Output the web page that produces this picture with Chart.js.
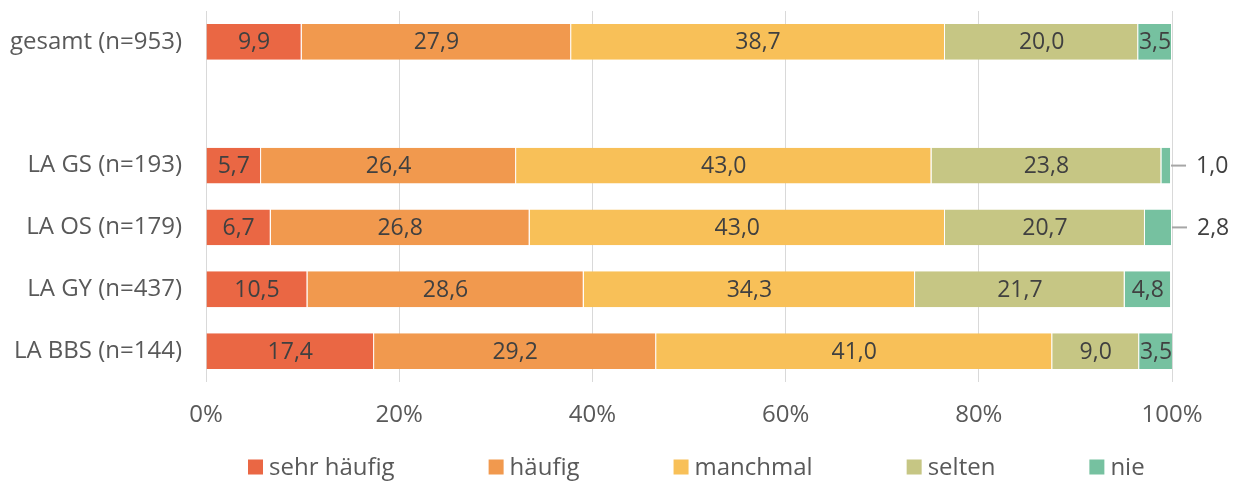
<!DOCTYPE html>
<html>
<head>
<meta charset="utf-8">
<script src="https://cdn.jsdelivr.net/npm/chart.js@4"></script>
<style>
  html, body { margin: 0; padding: 0; background: #fff; }
  #wrap { width: 1236px; height: 483px; }
</style>
</head>
<body>
<div id="wrap"><canvas id="chart" width="1236" height="483"></canvas></div>
<script>
// Kategorien (leere Zeile als Abstand nach "gesamt")
var kategorien = ['gesamt (n=953)', '', 'LA GS (n=193)', 'LA OS (n=179)', 'LA GY (n=437)', 'LA BBS (n=144)'];

var sehrHaeufig = [9.9, null, 5.7, 6.7, 10.5, 17.4];
var haeufig     = [27.9, null, 26.4, 26.8, 28.6, 29.2];
var manchmal    = [38.7, null, 43.0, 43.0, 34.3, 41.0];
var selten      = [20.0, null, 23.8, 20.7, 21.7, 9.0];
var nie         = [3.5, null, 1.0, 2.8, 4.8, 3.5];

var serienNamen = ['sehr häufig', 'häufig', 'manchmal', 'selten', 'nie'];
var farben = ['#EA6744', '#F1994E', '#F8C058', '#C6C684', '#76C1A0'];

var achsenTicks = [0, 20, 40, 60, 80, 100];

Chart.defaults.font.family = "'Open Sans', sans-serif";
Chart.defaults.font.size = 24;

function formatZahl(v) {
    return v.toFixed(1).replace('.', ',');
}

// Werte in die Balken schreiben, kleine Werte rechts daneben mit Linie
var wertePlugin = {
    id: 'werte',
    afterDatasetsDraw: function (chart) {
        var ctx = chart.ctx;
        ctx.save();
        ctx.font = "23px 'Open Sans', sans-serif";
        ctx.textBaseline = 'middle';
        chart.data.datasets.forEach(function (ds, i) {
            var meta = chart.getDatasetMeta(i);
            meta.data.forEach(function (bar, j) {
                var v = ds.data[j];
                if (v === null || v === undefined) return;
                ctx.fillStyle = '#404040';
                if (v < 3) {
                    ctx.strokeStyle = '#a6a6a6';
                    ctx.lineWidth = 2;
                    ctx.beginPath();
                    ctx.moveTo(bar.x, bar.y);
                    ctx.lineTo(bar.x + 15, bar.y);
                    ctx.stroke();
                    ctx.textAlign = 'left';
                    ctx.fillText(formatZahl(v), bar.x + 25, bar.y + 1);
                } else {
                    ctx.textAlign = 'center';
                    ctx.fillText(formatZahl(v), (bar.x + bar.base) / 2, bar.y + 1);
                }
            });
        });
        ctx.restore();
    }
};

// Legende unten, weit auseinander
var legendePlugin = {
    id: 'legende',
    afterDraw: function (chart) {
        var ctx = chart.ctx;
        var area = chart.chartArea;
        ctx.save();
        ctx.font = "24px 'Open Sans', sans-serif";
        ctx.textBaseline = 'middle';
        ctx.textAlign = 'left';
        var box = 15, gap = 6, abstand = 94;
        var x = area.left + 42;
        var y = 467;
        serienNamen.forEach(function (n, i) {
            ctx.fillStyle = farben[i];
            ctx.fillRect(x, y - box / 2, box, box);
            ctx.fillStyle = '#595959';
            ctx.fillText(n, x + box + gap, y + 1);
            x += box + gap + ctx.measureText(n).width + abstand;
        });
        ctx.restore();
    }
};

var datenReihen = [sehrHaeufig, haeufig, manchmal, selten, nie];

new Chart(document.getElementById('chart').getContext('2d'), {
    type: 'bar',
    data: {
        labels: kategorien,
        datasets: datenReihen.map(function (d, i) {
            return {
                label: serienNamen[i],
                data: d,
                backgroundColor: farben[i],
                borderColor: '#ffffff',
                borderWidth: { left: 0, right: 1, top: 0, bottom: 0 },
                borderSkipped: false,
                barPercentage: 0.58,
                categoryPercentage: 1
            };
        })
    },
    options: {
        indexAxis: 'y',
        responsive: false,
        animation: false,
        layout: { padding: { top: 11, right: 64, left: 0, bottom: 0 } },
        plugins: {
            legend: { display: false },
            tooltip: { enabled: false }
        },
        scales: {
            x: {
                stacked: true,
                min: 0,
                max: 100,
                afterBuildTicks: function (s) {
                    s.ticks = achsenTicks.map(function (v) { return { value: v }; });
                },
                afterFit: function (s) {
                    s.height = 101;
                    s.paddingLeft = 0;
                    s.paddingRight = 0;
                },
                grid: { color: '#d9d9d9', lineWidth: 1, drawTicks: false },
                border: { display: false },
                ticks: {
                    color: '#595959',
                    padding: 19,
                    maxRotation: 0,
                    callback: function (v) { return v + '%'; }
                }
            },
            y: {
                stacked: true,
                afterFit: function (s) {
                    s.width = 206;
                    s.paddingTop = 0;
                    s.paddingBottom = 0;
                },
                grid: { display: false, drawTicks: false },
                border: { display: false },
                ticks: { color: '#595959', padding: 24 }
            }
        }
    },
    plugins: [wertePlugin, legendePlugin]
});
</script>
</body>
</html>
